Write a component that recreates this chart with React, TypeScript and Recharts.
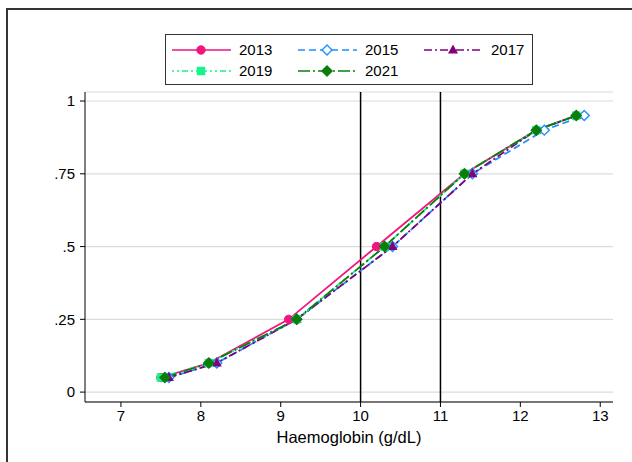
import React from 'react';
import {
  LineChart,
  Line,
  XAxis,
  YAxis,
  CartesianGrid,
  ReferenceLine,
  Label,
} from 'recharts';

const quantiles = [0.05, 0.1, 0.25, 0.5, 0.75, 0.9, 0.95];
const hb2013 = [7.5, 8.1, 9.1, 10.2, 11.3, 12.2, 12.7];
const hb2015 = [7.6, 8.2, 9.2, 10.4, 11.4, 12.3, 12.8];
const hb2017 = [7.6, 8.2, 9.2, 10.4, 11.4, 12.2, 12.7];
const hb2019 = [7.5, 8.1, 9.2, 10.3, 11.3, 12.2, 12.7];
const hb2021 = [7.55, 8.1, 9.2, 10.3, 11.3, 12.2, 12.7];

const xTicks = [7, 8, 9, 10, 11, 12, 13];
const yTicks = [0, 0.25, 0.5, 0.75, 1];
const yTickLabels: Record<number, string> = { 0: '0', 0.25: '.25', 0.5: '.5', 0.75: '.75', 1: '1' };
const cutoffs = [10, 11];

type MarkerKind = 'circle' | 'hollowDiamond' | 'triangle' | 'square' | 'diamond';

interface SeriesDef {
  name: string;
  values: number[];
  color: string;
  dash?: string;
  marker: MarkerKind;
}

const SERIES: SeriesDef[] = [
  { name: '2013', values: hb2013, color: '#f0157f', marker: 'circle' },
  { name: '2015', values: hb2015, color: '#1e8fff', dash: '7 4', marker: 'hollowDiamond' },
  { name: '2017', values: hb2017, color: '#80007f', dash: '8 3 2 3', marker: 'triangle' },
  { name: '2019', values: hb2019, color: '#14f58c', dash: '2 3 2 3 6 3', marker: 'square' },
  { name: '2021', values: hb2021, color: '#0a7d0a', dash: '12 3 2 3', marker: 'diamond' },
];

const FONT = '"Liberation Sans", Arial, sans-serif';
const X_DOMAIN: [number, number] = [6.55, 13.16];
const Y_DOMAIN: [number, number] = [-0.034, 1.031];

function Marker({ kind, cx, cy, color }: { kind: MarkerKind; cx: number; cy: number; color: string }) {
  switch (kind) {
    case 'circle':
      return <circle cx={cx} cy={cy} r={4.2} fill={color} stroke={color} />;
    case 'hollowDiamond':
      return (
        <polygon
          points={`${cx},${cy - 5} ${cx + 5},${cy} ${cx},${cy + 5} ${cx - 5},${cy}`}
          fill="#fff"
          stroke={color}
          strokeWidth={1.4}
        />
      );
    case 'triangle':
      return <polygon points={`${cx},${cy - 5.5} ${cx + 5},${cy + 3.5} ${cx - 5},${cy + 3.5}`} fill={color} />;
    case 'square':
      return <rect x={cx - 4.2} y={cy - 4.2} width={8.4} height={8.4} fill={color} />;
    case 'diamond':
      return <polygon points={`${cx},${cy - 6} ${cx + 6},${cy} ${cx},${cy + 6} ${cx - 6},${cy}`} fill={color} />;
  }
}

function LegendBox() {
  const cols = [0, 126, 252];
  return (
    <div
      style={{
        position: 'absolute',
        left: 165,
        top: 34,
        width: 366,
        height: 49,
        border: '1px solid #333',
        background: '#fff',
        fontFamily: FONT,
        fontSize: 15,
        color: '#000',
      }}
    >
      {SERIES.map((s, i) => {
        const row = Math.floor(i / 3);
        const col = i % 3;
        const left = 6 + cols[col];
        const top = 5 + row * 21;
        return (
          <div key={s.name} style={{ position: 'absolute', left, top, height: 20 }}>
            <svg width={60} height={20} style={{ position: 'absolute', left: 0, top: 0 }}>
              <line x1={0} y1={10} x2={59} y2={10} stroke={s.color} strokeWidth={1.7} strokeDasharray={s.dash} />
              <Marker kind={s.marker} cx={29} cy={10} color={s.color} />
            </svg>
            <span style={{ position: 'absolute', left: 67, top: 1, lineHeight: '18px' }}>{s.name}</span>
          </div>
        );
      })}
    </div>
  );
}

export default function App() {
  return (
    <div style={{ position: 'absolute', left: 0, top: 0, width: 632, height: 462, background: '#fff', overflow: 'hidden' }}>
      <div
        style={{
          position: 'absolute',
          left: 6,
          top: 8,
          width: 640,
          height: 470,
          borderTop: '2px solid #333',
          borderLeft: '2px solid #333',
        }}
      />
      <div style={{ position: 'absolute', left: 0, top: 0 }}>
        <LineChart width={632} height={462} margin={{ top: 92, right: 19, bottom: 0, left: 0 }}>
          <CartesianGrid horizontal vertical={false} stroke="#dcdcdc" strokeWidth={1.2} />
          <XAxis
            type="number"
            dataKey="x"
            domain={X_DOMAIN}
            ticks={xTicks}
            allowDataOverflow
            height={60}
            tickSize={5}
            tickMargin={3}
            stroke="#000"
            tick={{ fill: '#000', fontSize: 15, fontFamily: FONT }}
          >
            <Label value="Haemoglobin (g/dL)" position="insideBottom" offset={19} fill="#000" fontSize={16.5} fontFamily={FONT} />
          </XAxis>
          <XAxis xAxisId="top" orientation="top" type="number" domain={X_DOMAIN} height={0} tick={false} tickLine={false} stroke="#000" />
          <YAxis
            type="number"
            domain={Y_DOMAIN}
            ticks={yTicks}
            allowDataOverflow
            width={85}
            tickSize={5}
            tickMargin={5}
            stroke="#000"
            tickFormatter={(v: number) => yTickLabels[v] ?? String(v)}
            tick={{ fill: '#000', fontSize: 15, fontFamily: FONT }}
          />
          <YAxis yAxisId="right" orientation="right" domain={Y_DOMAIN} width={0} tick={false} tickLine={false} stroke="#000" />
          {cutoffs.map((c) => (
            <ReferenceLine key={c} x={c} stroke="#000" strokeWidth={1.5} />
          ))}
          {SERIES.map((s) => (
            <Line
              key={s.name}
              name={s.name}
              data={s.values.map((x, i) => ({ x, y: quantiles[i] }))}
              dataKey="y"
              type="linear"
              stroke={s.color}
              strokeWidth={1.8}
              strokeDasharray={s.dash}
              isAnimationActive={false}
              dot={(p: any) => <Marker key={`${s.name}-${p.index}`} kind={s.marker} cx={p.cx} cy={p.cy} color={s.color} />}
              activeDot={false}
            />
          ))}
        </LineChart>
      </div>
      <LegendBox />
    </div>
  );
}
